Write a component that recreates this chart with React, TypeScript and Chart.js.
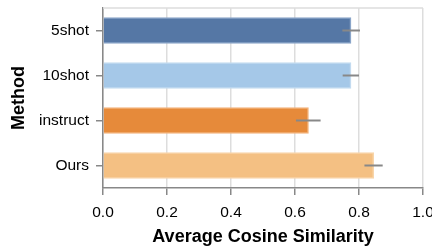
import React, { useEffect, useRef } from "react";
import { Chart, registerables } from "chart.js";

Chart.register(...registerables);

const methods = ["5shot", "10shot", "instruct", "Ours"];
const meanSimilarity = [0.775, 0.775, 0.642, 0.846];
const ciLower = [0.748, 0.749, 0.603, 0.817];
const ciUpper = [0.803, 0.8, 0.68, 0.874];
const xTicks = [0, 0.2, 0.4, 0.6, 0.8, 1.0];

const fillColors = ["#5577a5", "#a5c8e8", "#e68a3a", "#f4c083"];
const borderColors = ["#8aa5c9", "#c3dbf0", "#f2b27a", "#f8d5aa"];

const FONT = "'Liberation Sans', Arial, Helvetica, sans-serif";

export default function App() {
  const ref = useRef<HTMLCanvasElement | null>(null);

  useEffect(() => {
    if (!ref.current) return;

    const frame = {
      id: "frame",
      beforeDatasetsDraw(chart: any) {
        const { ctx, chartArea } = chart;
        ctx.save();
        ctx.strokeStyle = "#dddddd";
        ctx.lineWidth = 1.5;
        ctx.beginPath();
        ctx.moveTo(chartArea.left, chartArea.top);
        ctx.lineTo(chartArea.right, chartArea.top);
        ctx.stroke();
        ctx.restore();
      },
    };

    const errorBars = {
      id: "errorBars",
      afterDatasetsDraw(chart: any) {
        const { ctx } = chart;
        const xs = chart.scales.x;
        const ys = chart.scales.y;
        ctx.save();
        ctx.strokeStyle = "#888888";
        ctx.lineWidth = 2;
        methods.forEach((_, i) => {
          const y = ys.getPixelForValue(i);
          ctx.beginPath();
          ctx.moveTo(xs.getPixelForValue(ciLower[i]), y);
          ctx.lineTo(xs.getPixelForValue(ciUpper[i]), y);
          ctx.stroke();
        });
        ctx.restore();
      },
    };

    const chart = new Chart(ref.current, {
      type: "bar",
      data: {
        labels: methods,
        datasets: [
          {
            data: meanSimilarity,
            backgroundColor: fillColors,
            borderColor: borderColors,
            borderWidth: 1.5,
            barThickness: 26,
          },
        ],
      },
      options: {
        indexAxis: "y",
        animation: false,
        responsive: false,
        maintainAspectRatio: false,
        layout: { padding: { left: 0, right: 9, top: 8, bottom: 0 } },
        plugins: {
          legend: { display: false },
          tooltip: { enabled: false },
        },
        scales: {
          x: {
            type: "linear",
            min: 0,
            max: 1,
            afterBuildTicks: (scale: any) => {
              scale.ticks = xTicks.map((v) => ({ value: v }));
            },
            afterFit: (scale: any) => {
              scale.height = 62;
              scale.paddingLeft = 0;
              scale.paddingRight = 0;
            },
            ticks: {
              color: "#000",
              font: { family: FONT, size: 15.5 },
              padding: 8,
              callback: (v: any) => Number(v).toFixed(1),
            },
            grid: {
              color: "#dddddd",
              lineWidth: 1.5,
              tickColor: "#888888",
              tickLength: 7,
            },
            border: { color: "#888888", width: 1.5 },
            title: {
              display: true,
              text: "Average Cosine Similarity",
              color: "#000",
              font: { family: FONT, size: 18, weight: "bold" },
              padding: { top: 2, bottom: 2 },
            },
          },
          y: {
            type: "category",
            afterFit: (scale: any) => {
              scale.width = 103;
              scale.paddingTop = 0;
              scale.paddingBottom = 0;
            },
            ticks: {
              color: "#000",
              font: { family: FONT, size: 15.5 },
              padding: 7,
            },
            grid: {
              display: true,
              drawOnChartArea: false,
              offset: false,
              color: "#888888",
              lineWidth: 1.5,
              tickLength: 7,
            },
            border: { color: "#888888", width: 1.5 },
            title: {
              display: true,
              text: "Method",
              color: "#000",
              font: { family: FONT, size: 18, weight: "bold" },
              padding: { top: 8, bottom: 8 },
            },
          },
        },
      },
      plugins: [frame, errorBars],
    } as any);

    return () => chart.destroy();
  }, []);

  return (
    <div style={{ position: "fixed", left: 0, top: 0, width: 432, height: 250, background: "#fff" }}>
      <canvas ref={ref} width={432} height={250} style={{ width: 432, height: 250, display: "block" }} />
    </div>
  );
}
